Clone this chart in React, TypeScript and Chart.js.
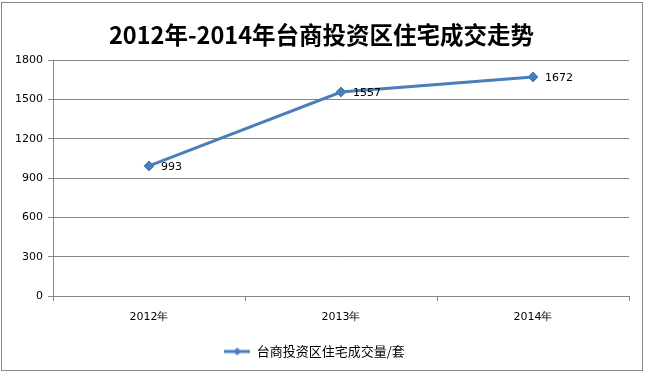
import React, { useEffect, useRef } from "react";
import { Chart, registerables } from "chart.js";

Chart.register(...registerables);

const TITLE = "2012年-2014年台商投资区住宅成交走势";
const CATEGORIES = ["2012年", "2013年", "2014年"];
const SERIES_LABEL = "台商投资区住宅成交量/套";
const SERIES_VALUES = [993, 1557, 1672];
const Y_MIN = 0;
const Y_MAX = 1800;
const Y_STEP = 300;

const LINE_COLOR = "#4A7EBB";
const GRID_COLOR = "#868686";
const NUM_FONT = "'DejaVu Sans', Verdana, sans-serif";
const CJK_FONT = "'Noto Sans CJK SC', 'DejaVu Sans', sans-serif";

function makeLegendIcon(): HTMLCanvasElement {
  const c = document.createElement("canvas");
  c.width = 26;
  c.height = 10;
  const ctx = c.getContext("2d")!;
  ctx.strokeStyle = LINE_COLOR;
  ctx.lineWidth = 3;
  ctx.beginPath();
  ctx.moveTo(0, 5);
  ctx.lineTo(26, 5);
  ctx.stroke();
  ctx.fillStyle = LINE_COLOR;
  ctx.beginPath();
  ctx.moveTo(13, 1);
  ctx.lineTo(17, 5);
  ctx.lineTo(13, 9);
  ctx.lineTo(9, 5);
  ctx.closePath();
  ctx.fill();
  return c;
}

const borderPlugin = {
  id: "outerBorder",
  beforeDraw(chart: any) {
    const ctx = chart.ctx;
    ctx.save();
    ctx.fillStyle = "#ffffff";
    ctx.fillRect(0, 0, chart.width, chart.height);
    ctx.strokeStyle = GRID_COLOR;
    ctx.lineWidth = 1;
    ctx.strokeRect(1.5, 2.5, chart.width - 4, chart.height - 6);
    ctx.restore();
  },
};

const titleShiftPlugin = {
  id: "titleShift",
  afterLayout(chart: any) {
    const t = chart.titleBlock;
    if (t) {
      t.left += 7;
      t.right += 7;
    }
  },
};

const dataLabelPlugin = {
  id: "dataLabels",
  afterDatasetsDraw(chart: any) {
    const ctx = chart.ctx;
    ctx.save();
    ctx.font = `11px ${NUM_FONT}`;
    ctx.fillStyle = "#000000";
    ctx.textAlign = "left";
    ctx.textBaseline = "middle";
    chart.data.datasets.forEach((ds: any, i: number) => {
      const meta = chart.getDatasetMeta(i);
      meta.data.forEach((pt: any, j: number) => {
        ctx.fillText(String(ds.data[j]), pt.x + 12, pt.y + 1);
      });
    });
    ctx.restore();
  },
};

export default function App() {
  const ref = useRef<HTMLCanvasElement | null>(null);

  useEffect(() => {
    if (!ref.current) return;
    const icon = makeLegendIcon();
    const chart = new Chart(ref.current, {
      type: "line",
      data: {
        labels: CATEGORIES,
        datasets: [
          {
            label: SERIES_LABEL,
            data: SERIES_VALUES,
            borderColor: LINE_COLOR,
            backgroundColor: LINE_COLOR,
            borderWidth: 3,
            pointStyle: "rectRot",
            pointRadius: 5,
            pointBackgroundColor: LINE_COLOR,
            pointBorderColor: LINE_COLOR,
            pointBorderWidth: 1,
            tension: 0,
            fill: false,
          },
        ],
      },
      options: {
        responsive: false,
        animation: false,
        layout: { padding: { left: 0, right: 16, top: 0, bottom: 6 } },
        plugins: {
          title: {
            display: true,
            text: TITLE,
            color: "#000000",
            font: { family: CJK_FONT, size: 23.5, weight: "bold" },
            padding: { top: 21, bottom: 11 },
          },
          legend: {
            display: true,
            position: "bottom",
            labels: {
              usePointStyle: true,
              pointStyleWidth: 26,
              boxWidth: 26,
              boxHeight: 10,
              color: "#000000",
              font: { family: CJK_FONT, size: 13 },
              padding: 10,
              generateLabels: (ch: any) =>
                ch.data.datasets.map((ds: any, i: number) => ({
                  text: ds.label,
                  pointStyle: icon,
                  fillStyle: LINE_COLOR,
                  strokeStyle: LINE_COLOR,
                  lineWidth: 0,
                  hidden: false,
                  datasetIndex: i,
                  fontColor: "#000000",
                })),
            },
          },
          tooltip: { enabled: false },
        },
        scales: {
          x: {
            offset: true,
            grid: {
              offset: true,
              drawOnChartArea: false,
              drawTicks: true,
              tickLength: 5,
              color: GRID_COLOR,
            },
            border: { display: true, color: GRID_COLOR, width: 1 },
            ticks: {
              color: "#000000",
              font: { family: NUM_FONT, size: 11 },
              padding: 10,
              maxRotation: 0,
            },
            afterFit: (scale: any) => {
              scale.height = 39;
            },
          },
          y: {
            min: Y_MIN,
            max: Y_MAX,
            grid: {
              drawOnChartArea: true,
              drawTicks: true,
              tickLength: 5,
              color: GRID_COLOR,
            },
            border: { display: true, color: GRID_COLOR, width: 1 },
            ticks: {
              stepSize: Y_STEP,
              color: "#000000",
              font: { family: NUM_FONT, size: 11 },
              padding: 5,
              callback: (v: any) => String(v),
            },
            afterFit: (scale: any) => {
              scale.width = 53;
            },
          },
        },
      },
      plugins: [borderPlugin, titleShiftPlugin, dataLabelPlugin],
    } as any);
    return () => chart.destroy();
  }, []);

  return (
    <div style={{ position: "absolute", left: 0, top: 0, width: 645, height: 374 }}>
      <canvas ref={ref} width={645} height={374} style={{ display: "block" }} />
    </div>
  );
}
